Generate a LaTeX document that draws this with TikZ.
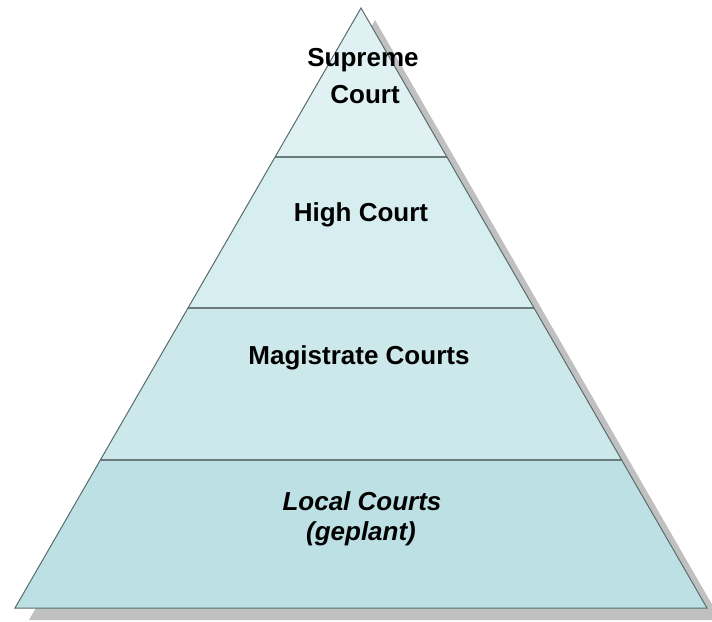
\documentclass[tikz,border=0pt]{standalone}
\usepackage{fontspec}
\setmainfont{Liberation Sans}
\usetikzlibrary{calc}
\definecolor{tierA}{HTML}{DFF1F2}
\definecolor{tierB}{HTML}{D7EEF0}
\definecolor{tierC}{HTML}{CCE8EB}
\definecolor{tierD}{HTML}{BCE0E3}
\definecolor{shadowgrey}{HTML}{C0C0C0}
\definecolor{edge}{HTML}{5A6B6B}
\begin{document}
\begin{tikzpicture}[x=1pt,y=-1pt,
  divider/.style={draw=edge!90!white,line width=2pt},
  label/.style={font=\fontsize{26}{30}\selectfont\bfseries,anchor=base,inner sep=0pt}]
\useasboundingbox (0,0) rectangle (712,621);
% corners of the pyramid
\coordinate (apex) at (361,8);
\coordinate (bl) at (15,608);
\coordinate (br) at (707,608);
% drop shadow
\fill[shadowgrey] ($(apex)+(14,12)$) -- ($(bl)+(14,12)$) -- ($(br)+(14,12)$) -- cycle;
% tier boundaries along the sides
\coordinate (l1) at ($(apex)!0.24833!(bl)$);
\coordinate (r1) at ($(apex)!0.24833!(br)$);
\coordinate (l2) at ($(apex)!0.5!(bl)$);
\coordinate (r2) at ($(apex)!0.5!(br)$);
\coordinate (l3) at ($(apex)!0.75333!(bl)$);
\coordinate (r3) at ($(apex)!0.75333!(br)$);
% tiers
\fill[tierA] (apex) -- (l1) -- (r1) -- cycle;
\fill[tierB] (l1) -- (l2) -- (r2) -- (r1) -- cycle;
\fill[tierC] (l2) -- (l3) -- (r3) -- (r2) -- cycle;
\fill[tierD] (l3) -- (bl) -- (br) -- (r3) -- cycle;
% dividers and outline
\draw[divider] (l1) -- (r1);
\draw[divider] (l2) -- (r2);
\draw[divider] (l3) -- (r3);
\draw[edge,line width=1pt,line join=miter] (apex) -- (bl) -- (br) -- cycle;
% labels
\node[label] (sup1) at (363,66) {Supreme};
\node[label] (sup2) at (365,103) {Court};
\node[label] (high) at (361,221) {High Court};
\node[label] (mag) at (359,364) {Magistrate Courts};
\node[label,font=\fontsize{26}{30}\selectfont\bfseries\itshape] (loc1) at (362,510) {Local Courts};
\node[label,font=\fontsize{26}{30}\selectfont\bfseries\itshape] (loc2) at (361,540) {(geplant)};
\end{tikzpicture}
\end{document}
